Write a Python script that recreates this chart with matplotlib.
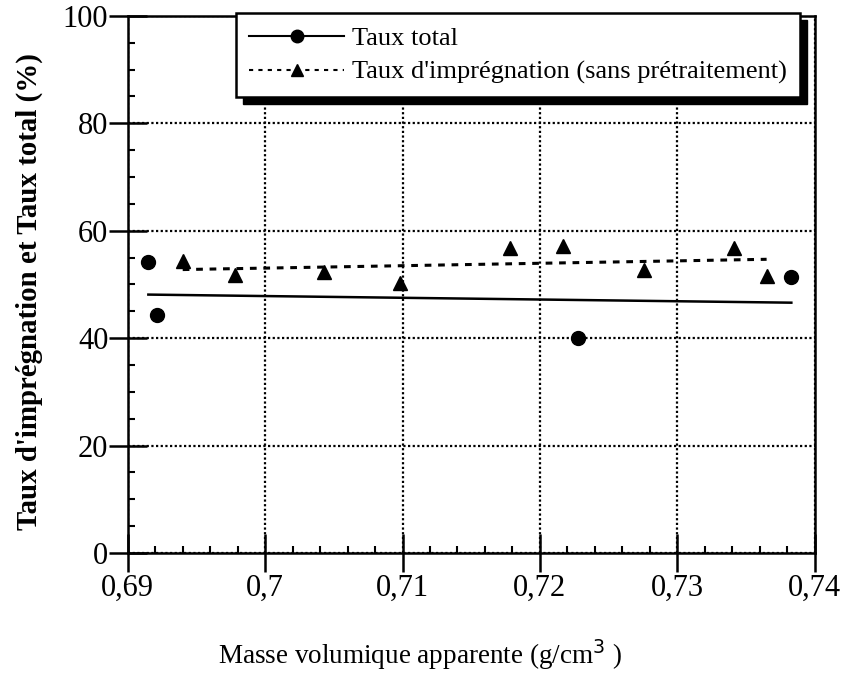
import numpy as np
import matplotlib
matplotlib.use("Agg")
import matplotlib.pyplot as plt
from matplotlib.lines import Line2D
from matplotlib.patches import Rectangle
from matplotlib.ticker import MultipleLocator, FuncFormatter

plt.rcParams['font.family'] = ['Liberation Serif', 'DejaVu Serif']

# Data
total_x = [0.6915, 0.6921, 0.7228, 0.7383]
total_y = [54.2, 44.3, 40.0, 51.4]
impreg_x = [0.6940, 0.6978, 0.7043, 0.7098, 0.7178, 0.7217, 0.7276, 0.7341, 0.7365]
impreg_y = [54.3, 51.8, 52.3, 50.3, 56.8, 57.2, 52.7, 56.8, 51.6]

x_ticks = [0.69, 0.70, 0.71, 0.72, 0.73, 0.74]
y_ticks = [0, 20, 40, 60, 80, 100]

label_total = "Taux total"
label_impreg = "Taux d'imprégnation (sans prétraitement)"
xlabel = "Masse volumique apparente (g/cm$^3$ )"
ylabel = "Taux d'imprégnation et Taux total (%)"

fig = plt.figure(figsize=(8.46, 6.74), dpi=100)
ax = fig.add_axes([0.151, 0.1795, 0.812, 0.797])

# scatter points
ax.plot(total_x, total_y, 'o', color='black', markersize=10, zorder=4)
ax.plot(impreg_x, impreg_y, '^', color='black', markersize=10, zorder=4)

# linear regression lines
tx = np.array(total_x); ty = np.array(total_y)
p1 = np.polyfit(tx, ty, 1)
xs1 = np.array([tx.min(), tx.max()])
ax.plot(xs1, np.polyval(p1, xs1), '-', color='black', lw=1.8, zorder=3)

ix = np.array(impreg_x); iy = np.array(impreg_y)
p2 = np.polyfit(ix, iy, 1)
xs2 = np.array([ix.min(), ix.max()])
ax.plot(xs2, np.polyval(p2, xs2), color='black', lw=2.2, dashes=(2.2, 2.2), zorder=3)

ax.set_xlim(0.69, 0.74)
ax.set_ylim(0, 100)
ax.set_xticks(x_ticks)
ax.set_yticks(y_ticks)
ax.xaxis.set_minor_locator(MultipleLocator(0.002))
ax.yaxis.set_minor_locator(MultipleLocator(5))
ax.xaxis.set_major_formatter(FuncFormatter(lambda v, p: f"{v:.2f}".rstrip('0').replace('.', ',')))

ax.tick_params(which='major', direction='inout', length=28, width=1.8, labelsize=22)
ax.tick_params(axis='x', which='major', pad=1)
ax.tick_params(axis='y', which='major', pad=0)
ax.tick_params(which='minor', direction='in', length=5, width=1.5)

for s in ax.spines.values():
    s.set_linewidth(1.8)

ax.grid(True, which='major', color='black', linestyle=(0, (1, 1.1)), linewidth=1.6)
ax.set_axisbelow(True)

ax.set_ylabel(ylabel, fontsize=20.8, fontweight='bold')
ax.yaxis.set_label_coords(-0.143, 0.486)
ax.yaxis.label.set_verticalalignment('center')
ax.set_xlabel(xlabel, fontsize=19.5)
ax.xaxis.set_label_coords(0.425, -0.19)
ax.xaxis.label.set_verticalalignment('center')

handles = [
    Line2D([], [], color='black', lw=1.5, marker='o', markersize=9, linestyle='-'),
    Line2D([], [], color='black', lw=1.5, marker='^', markersize=9, dashes=(2, 2.5)),
]
leg = ax.legend(handles, [label_total, label_impreg], loc='upper left',
                bbox_to_anchor=(0.158, 1.005), frameon=True, fancybox=False,
                fontsize=19, handlelength=3.6, handletextpad=0.3,
                borderpad=0.5, labelspacing=0.4, framealpha=1, borderaxespad=0)
leg.get_frame().set_edgecolor('black')
leg.get_frame().set_linewidth(1.8)
leg.set_zorder(10)

fig.canvas.draw()
bb = leg.get_window_extent().transformed(fig.transFigure.inverted())
off_x = 7 / fig.bbox.width
off_y = 7 / fig.bbox.height
shadow = Rectangle((bb.x0 + off_x, bb.y0 - off_y), bb.width, bb.height,
                   transform=fig.transFigure, facecolor='black', edgecolor='black',
                   zorder=9)
fig.patches.append(shadow)
leg.remove()
fig.legends.append(leg)
leg.set_figure(fig)

fig.savefig("out.png", dpi=100)
